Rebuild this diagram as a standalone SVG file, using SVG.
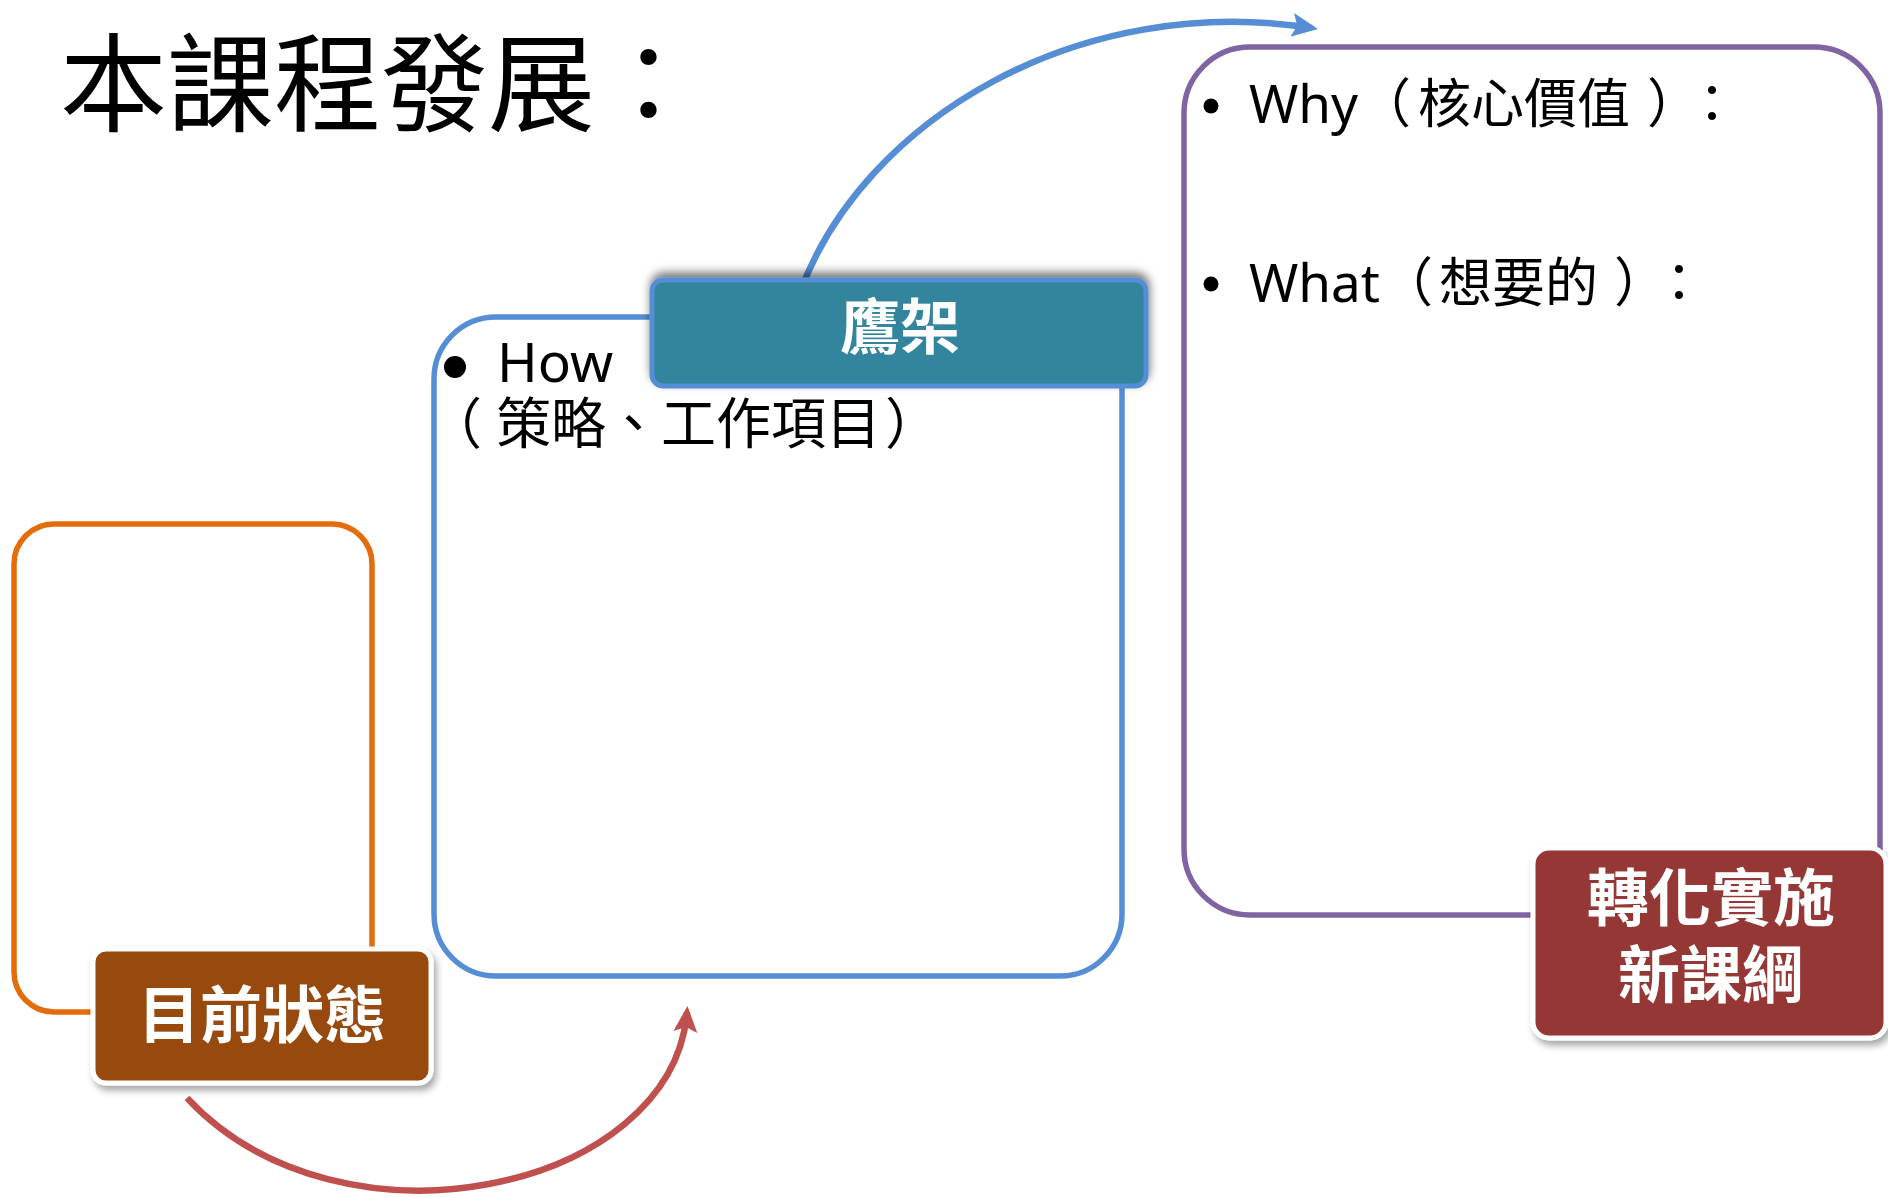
<svg xmlns="http://www.w3.org/2000/svg" width="1888" height="1198" viewBox="0 0 1888 1198">
<style>
.box{fill:none;stroke-width:5.5}
.body{font-family:"Noto Sans","Noto Sans CJK TC",sans-serif;fill:#000}
.lbl{font-family:"Noto Sans CJK TC","Noto Sans",sans-serif;font-weight:700;fill:#fff;text-anchor:middle}
.arc{fill:none;stroke-width:6.5}
</style>
<defs>
<filter id="shUp" x="-10%" y="-30%" width="120%" height="160%">
<feDropShadow dx="1" dy="-5" stdDeviation="5" flood-color="#000" flood-opacity="0.55"/>
</filter>
<filter id="shDn" x="-10%" y="-20%" width="125%" height="150%">
<feDropShadow dx="3" dy="5" stdDeviation="3.5" flood-color="#000" flood-opacity="0.35"/>
</filter>
<marker id="arBlue" markerUnits="userSpaceOnUse" markerWidth="28" markerHeight="26" refX="20" refY="12" orient="auto">
<path d="M0,0 L26,12 L0,24 L5,12 z" fill="#558ED5"/>
</marker>
<marker id="arRed" markerUnits="userSpaceOnUse" markerWidth="28" markerHeight="26" refX="20" refY="12" orient="auto">
<path d="M0,0 L26,12 L0,24 L5,12 z" fill="#C0504D"/>
</marker>
</defs>
<rect width="1888" height="1198" fill="#fff"/>

<g id="title">
<text x="60" y="123" font-family="Noto Sans CJK TC, sans-serif" font-size="107" fill="#000">本課程發展：</text>
</g>

<g id="connectors">
<path class="arc" stroke="#558ED5" d="M800,292 C865,118 1080,-8 1312,28" marker-end="url(#arBlue)"/>
<path class="arc" stroke="#C0504D" d="M187,1098 C340,1262 672,1192 687,1012" marker-end="url(#arRed)"/>
</g>

<g id="node-current">
<rect class="box" x="14" y="524" width="358" height="488" rx="40" stroke="#E46C0A"/>
<rect x="93" y="949" width="338" height="134" rx="13" fill="#984807" stroke="#fff" stroke-width="5" filter="url(#shDn)"/>
<text class="lbl" x="262" y="1038" font-size="62">目前狀態</text>
</g>

<g id="node-how">
<rect class="box" x="434" y="317" width="688" height="659" rx="62" stroke="#558ED5"/>
<circle cx="455" cy="367" r="11" fill="#000"/>
<text class="body" x="497" y="382" font-size="55">How</text>
<text class="body" x="441" y="443" font-size="55"><tspan dx="-14">（</tspan><tspan dx="14">策略、工作項目</tspan><tspan dx="4">）</tspan></text>
</g>

<g id="node-scaffold">
<rect x="652" y="280" width="494" height="106" rx="11" fill="#31859C" stroke="#558ED5" stroke-width="5" filter="url(#shUp)"/>
<text class="lbl" x="900" y="349" font-size="60">鷹架</text>
</g>

<g id="node-why-what">
<rect class="box" x="1184" y="47" width="696" height="868" rx="66" stroke="#8064A2"/>
<circle cx="1211" cy="106" r="7.5" fill="#000"/>
<text class="body" x="1249" y="123" font-size="53">Why<tspan>（</tspan><tspan dx="7">核心價值</tspan><tspan dx="17">）</tspan><tspan dx="12">：</tspan></text>
<circle cx="1211" cy="284" r="7.5" fill="#000"/>
<text class="body" x="1249" y="302" font-size="53">What<tspan>（</tspan><tspan dx="6">想要的</tspan><tspan dx="16">）</tspan><tspan dx="12">：</tspan></text>
</g>

<g id="node-new-curriculum">
<rect x="1533" y="848" width="353" height="190" rx="16" fill="#953735" stroke="#fff" stroke-width="5" filter="url(#shDn)"/>
<text class="lbl" x="1711" y="921" font-size="62">轉化實施</text>
<text class="lbl" x="1711" y="998" font-size="62">新課綱</text>
</g>
</svg>
